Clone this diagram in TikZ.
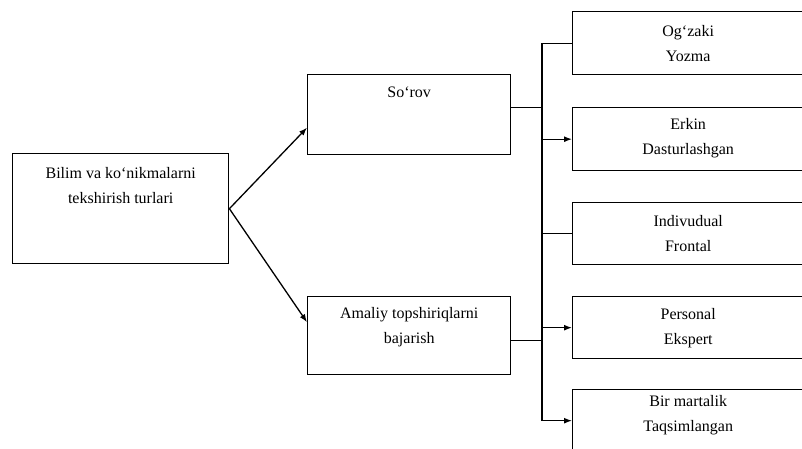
\documentclass[tikz,border=0pt]{standalone}
\usepackage{fontspec}
\setmainfont{Liberation Serif}
\usetikzlibrary{arrows.meta,calc}
\begin{document}
\begin{tikzpicture}[x=1pt,y=-1pt,
  box/.style={draw, line width=1.4pt, rectangle, anchor=north west, inner sep=0pt},
  rbox/.style={box, minimum width=245},
  lbl/.style={anchor=north, align=center, inner sep=0pt,
     font=\fontsize{16}{25}\selectfont},
  rlbl/.style={lbl, xshift=-7pt},
  link/.style={line width=1.3pt},
  arr/.style={line width=1.3pt, -{Latex[length=8pt,width=6pt]}}]
\useasboundingbox (0,0) rectangle (802,449);
% main boxes
\node[box, minimum width=216, minimum height=110,
  label={[lbl,yshift=-14pt]north:Bilim va ko‘nikmalarni\\tekshirish turlari}] (main) at (12,153) {};
\node[box, minimum width=203, minimum height=80,
  label={[lbl,yshift=-13pt]north:So‘rov}] (sorov) at (307,74) {};
\node[box, minimum width=203, minimum height=78,
  label={[lbl,yshift=-11pt]north:Amaliy topshiriqlarni\\bajarish}] (amal) at (307,296) {};
% right boxes
\node[rbox, minimum height=63,
  label={[rlbl,yshift=-14pt]north:Og‘zaki\\Yozma}] (r1) at (572,11) {};
\node[rbox, minimum height=63,
  label={[rlbl,yshift=-11pt]north:Erkin\\Dasturlashgan}] (r2) at (572,107) {};
\node[rbox, minimum height=62,
  label={[rlbl,yshift=-13pt]north:Indivudual\\Frontal}] (r3) at (572,202) {};
\node[rbox, minimum height=62,
  label={[rlbl,yshift=-12pt]north:Personal\\Ekspert}] (r4) at (572,296) {};
\node[rbox, minimum height=62,
  label={[rlbl,yshift=-6pt]north:Bir martalik\\Taqsimlangan}] (r5) at (572,389) {};
% bus
\coordinate (bx) at (542,0);
\draw[link] (r1.west -| bx) -- (r5.west -| bx);
% arrows from main
\draw[arr] (main.east) -- ($(sorov.north west)!0.66!(sorov.south west)$);
\draw[arr] (main.east) -- ($(amal.north west)!0.33!(amal.south west)$);
% to bus
\coordinate (s1) at ($(sorov.north east)!0.41!(sorov.south east)$);
\coordinate (a1) at ($(amal.north east)!0.56!(amal.south east)$);
\draw[link] (s1) -- (s1 -| bx);
\draw[link] (a1) -- (a1 -| bx);
% branches
\draw[link] (r1.west -| bx) -- (r1.west);
\draw[arr] (r2.west -| bx) -- (r2.west);
\draw[link] (r3.west -| bx) -- (r3.west);
\draw[arr] (r4.west -| bx) -- (r4.west);
\draw[arr] (r5.west -| bx) -- (r5.west);
\end{tikzpicture}
\end{document}
